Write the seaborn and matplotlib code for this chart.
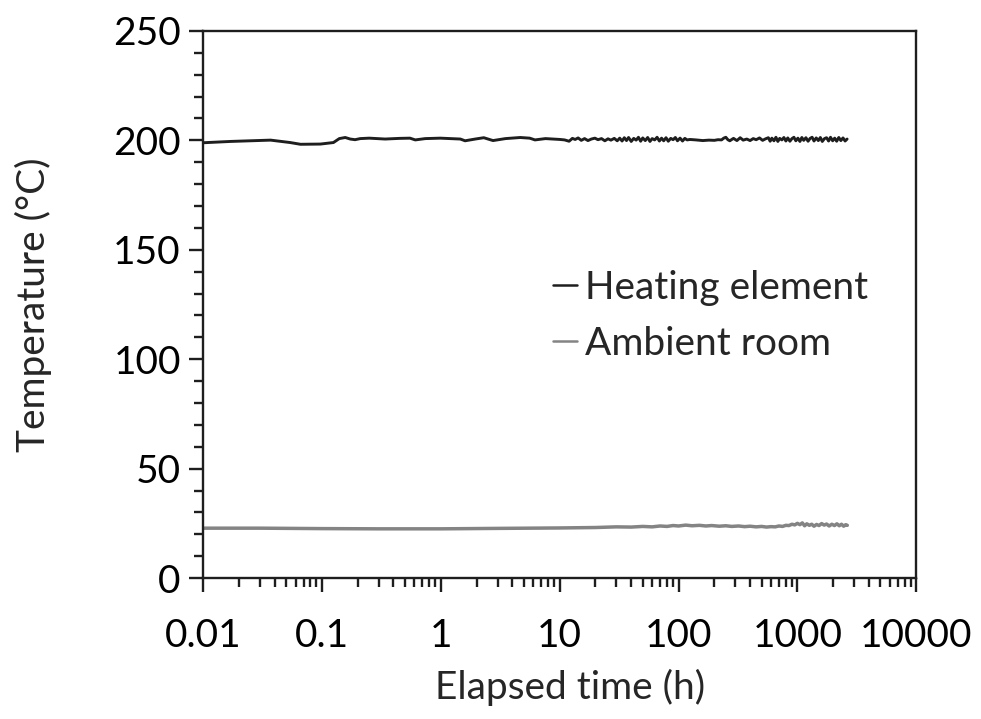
import numpy as np
import pandas as pd
import matplotlib
matplotlib.use("Agg")
import matplotlib.pyplot as plt
import matplotlib.ticker as mticker
import seaborn as sns

# Heating element temperature readings (time in h, temperature in degC)
heat_time = [
    0.010, 0.017, 0.037, 0.054, 0.066, 0.097, 0.125, 0.14, 0.157, 0.173,
    0.19, 0.21, 0.25, 0.34, 0.45, 0.55, 0.61, 0.74, 0.99, 1.2,
    1.46, 1.6, 1.95, 2.3, 2.75, 3.5, 4.66, 5.6, 6.2, 7.6,
    10.1, 11, 12, 12.8, 13.5, 14.3, 15.2, 16.2, 17.3, 18.5,
    19.8, 21, 22.5, 24, 25.5, 27, 28.8, 30.5, 32, 33.5,
    35, 36.5, 38, 40, 42, 44, 46, 48, 50, 52.5,
    55, 57.5, 60, 63, 66, 69, 72, 75, 78.5, 82,
    86, 90, 94, 98, 103, 108, 113, 118, 125, 140,
    160, 180, 200, 215, 230, 240, 250, 260, 270, 290,
    310, 330, 350, 375, 400, 425, 450, 480, 510, 540,
    570, 590, 610, 635, 660, 685, 710, 740, 770, 800,
    830, 865, 900, 935, 970, 1010, 1050, 1090, 1130, 1180,
    1230, 1280, 1330, 1380, 1440, 1500, 1560, 1620, 1690, 1760,
    1830, 1900, 1980, 2060, 2140, 2230, 2320, 2420, 2520, 2620,
]
heat_temp = [
    198.9, 199.5, 200.1, 199.0, 198.2, 198.3, 199.0, 200.8, 201.3, 200.6,
    200.3, 200.8, 201.0, 200.6, 200.9, 201.0, 200.2, 200.8, 201.0, 200.8,
    200.6, 199.8, 200.6, 201.2, 199.9, 200.8, 201.3, 201.0, 200.2, 200.8,
    200.4, 200.2, 199.6, 200.9, 200.4, 201.1, 200.0, 200.8, 199.9, 200.6,
    201.0, 200.3, 200.8, 199.8, 200.7, 200.1, 200.9, 199.8, 201.0, 199.7,
    201.2, 199.9, 201.3, 199.5, 200.9, 200.1, 201.4, 199.6, 201.1, 199.9,
    201.3, 199.5, 200.8, 200.2, 201.4, 199.7, 201.0, 199.8, 201.2, 199.6,
    200.9, 200.3, 201.3, 199.8, 201.0, 199.7, 200.9, 200.2, 200.4, 200.2,
    199.9, 200.1, 200.0, 200.3, 200.2, 201.0, 201.4, 200.3, 199.8, 200.9,
    199.9, 201.2, 200.1, 200.6, 199.9, 200.8, 200.3, 201.1, 200.0, 200.7,
    201.2, 199.6, 201.0, 199.8, 201.4, 199.5, 200.9, 200.2, 201.3, 199.7,
    201.1, 199.6, 200.8, 201.4, 199.8, 201.0, 199.5, 201.3, 200.0, 201.2,
    199.6, 200.9, 201.4, 199.7, 201.1, 199.9, 201.3, 199.5, 200.8, 201.2,
    199.7, 201.4, 199.8, 201.0, 199.6, 201.3, 199.9, 201.1, 199.7, 200.6,
]

# Ambient room temperature readings
room_time = [
    0.01, 0.03, 0.1, 0.3, 1, 3, 10, 20, 30, 40,
    50, 60, 70, 80, 90, 100, 115, 130, 150, 170,
    190, 220, 250, 280, 320, 360, 400, 450, 500, 550,
    600, 650, 700, 750, 800, 850, 900, 950, 1000, 1050,
    1100, 1150, 1200, 1260, 1320, 1380, 1450, 1520, 1600, 1680,
    1760, 1850, 1950, 2050, 2150, 2250, 2350, 2450, 2550, 2630,
]
room_temp = [
    22.8, 22.8, 22.6, 22.5, 22.5, 22.7, 22.9, 23.1, 23.4, 23.3,
    23.6, 23.4, 23.8, 23.6, 24.0, 23.8, 24.2, 23.9, 24.1, 23.8,
    24.0, 23.7, 23.9, 23.6, 23.8, 23.5, 23.7, 23.4, 23.6, 23.3,
    23.5, 23.4, 23.8, 23.6, 24.1, 24.0, 24.6, 24.3, 25.0, 24.4,
    25.2, 23.9, 24.8, 24.1, 24.6, 23.7, 24.5, 24.0, 24.9, 24.2,
    24.7, 23.8, 24.6, 24.0, 24.8, 23.9, 24.6, 23.7, 24.4, 24.1,
]

x_ticks = [0.01, 0.1, 1, 10, 100, 1000, 10000]
x_tick_labels = ["0.01", "0.1", "1", "10", "100", "1000", "10000"]
y_ticks = [0, 50, 100, 150, 200, 250]

heat = pd.DataFrame({"time": heat_time, "temp": heat_temp})
room = pd.DataFrame({"time": room_time, "temp": room_temp})

sns.set_style("ticks")
plt.rcParams["font.family"] = ["Lato", "DejaVu Sans"]
plt.rcParams["font.size"] = 28

fig, ax = plt.subplots(figsize=(9.81, 7.19), dpi=100)
fig.subplots_adjust(left=0.207, right=0.934, top=0.957, bottom=0.196)

sns.lineplot(data=heat, x="time", y="temp", ax=ax, color="#1e1e1e",
             linewidth=2.1, estimator=None, label="Heating element")
sns.lineplot(data=room, x="time", y="temp", ax=ax, color="#848484",
             linewidth=2.5, estimator=None, label="Ambient room")

ax.set_xscale("log")
ax.set_xlim(0.01, 10000)
ax.set_ylim(0, 250)
ax.xaxis.set_major_locator(mticker.FixedLocator(x_ticks))
ax.xaxis.set_major_formatter(mticker.FixedFormatter(x_tick_labels))
ax.xaxis.set_minor_locator(mticker.LogLocator(base=10, subs=np.arange(2, 10), numticks=20))
ax.xaxis.set_minor_formatter(mticker.NullFormatter())
ax.set_yticks(y_ticks)
ax.yaxis.set_minor_locator(mticker.MultipleLocator(10))

for s in ax.spines.values():
    s.set_visible(True)
    s.set_linewidth(1.7)
    s.set_color("#1e1e1e")
ax.tick_params(which="major", direction="out", length=10, width=1.7, color="#1e1e1e",
               labelsize=28, labelcolor="black")
ax.tick_params(which="minor", direction="out", length=6.5, width=1.7, color="#1e1e1e")
ax.tick_params(axis="x", which="major", pad=19)
ax.tick_params(axis="y", which="major", pad=6)

ax.set_xlabel("Elapsed time (h)", fontsize=28)
ax.set_ylabel("Temperature (°C)", fontsize=28)
ax.xaxis.set_label_coords(0.515, -0.166)
ax.yaxis.set_label_coords(-0.212, 0.5)

leg = ax.legend(loc="center left", bbox_to_anchor=(0.491, 0.479), frameon=False,
                fontsize=28, handlelength=0.6, handletextpad=0.22,
                labelspacing=0.52, borderpad=0, borderaxespad=0)
for line in leg.get_lines():
    line.set_linewidth(1.8)

plt.savefig("out.png", dpi=100)
